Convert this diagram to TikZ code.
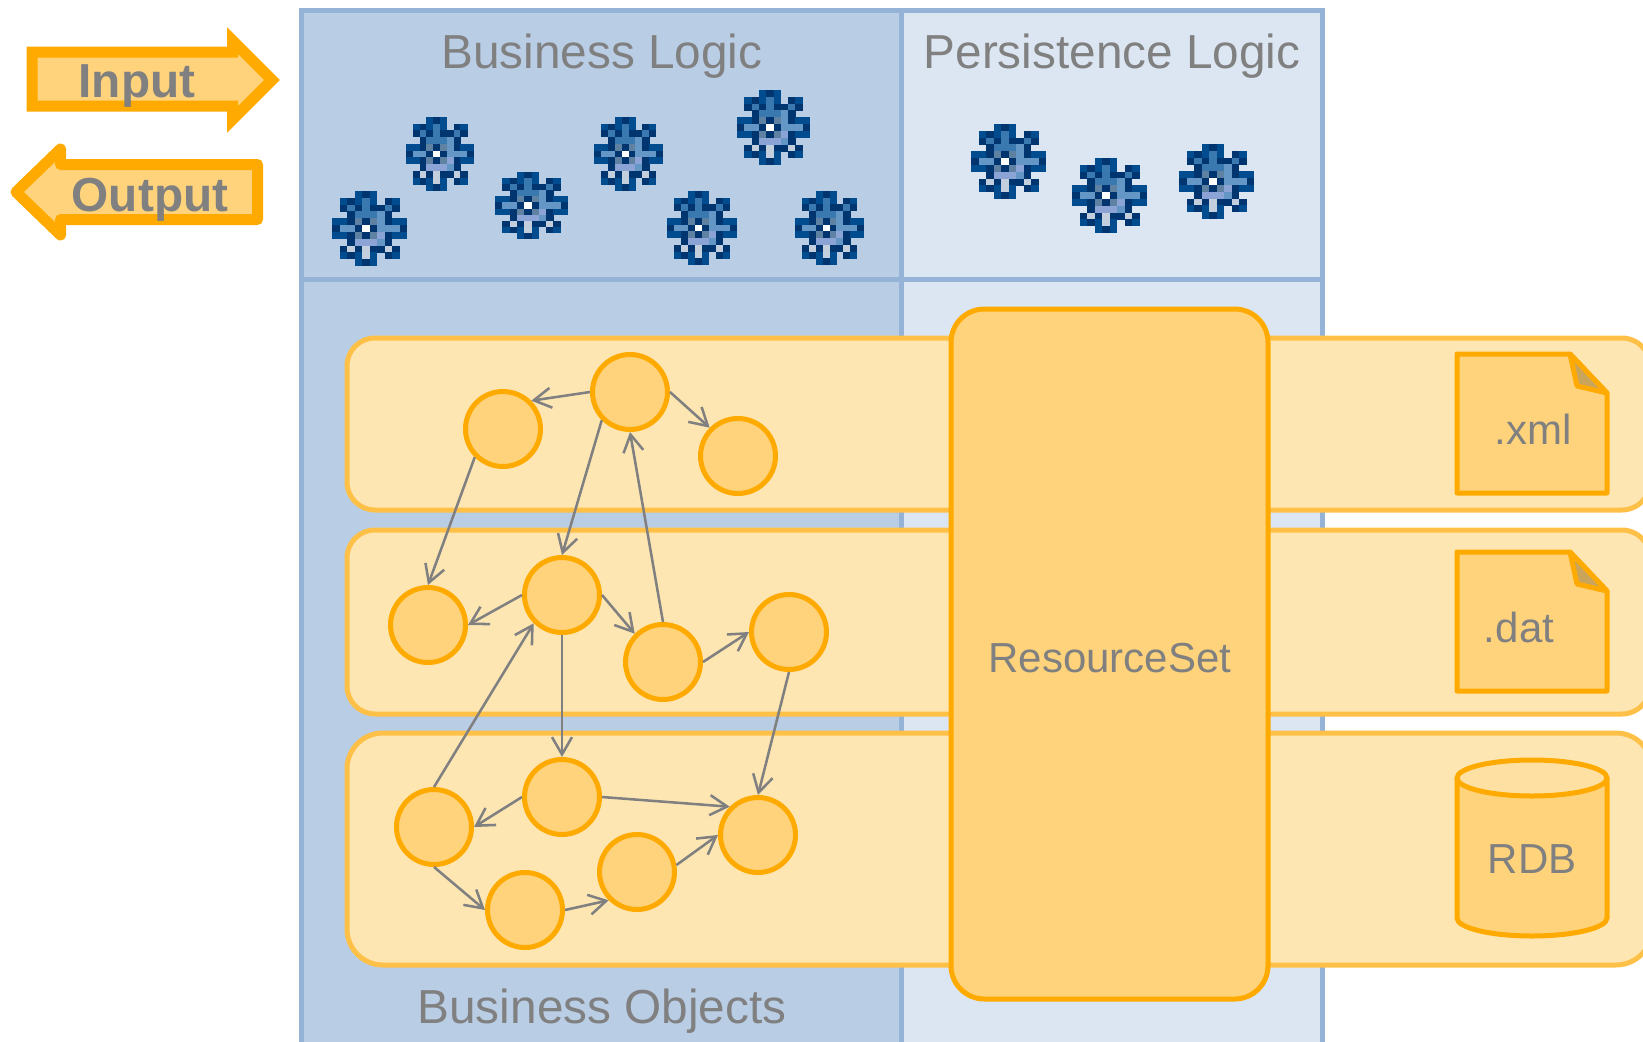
\documentclass[tikz, border = 0pt]{standalone}
\usepackage{fontspec}
\setmainfont{Liberation Sans}
\usepackage{tikz}
\usetikzlibrary{arrows.meta}

\definecolor{panelline}{HTML}{95B3D7}
\definecolor{paneldark}{HTML}{B9CDE5}
\definecolor{panellight}{HTML}{DCE6F2}
\definecolor{bandfill}{HTML}{FEE6B3}
\definecolor{bandline}{HTML}{FFC048}
\definecolor{boxline}{HTML}{FFAA00}
\definecolor{boxfill}{HTML}{FFD37B}
\definecolor{foldfill}{HTML}{C9A55C}
\definecolor{labelgray}{HTML}{808080}
\definecolor{gearb}{HTML}{004C8E}
\definecolor{geard}{HTML}{00356F}
\definecolor{gearm}{HTML}{3A78B0}
\definecolor{gearl}{HTML}{6497C5}
\definecolor{gearg}{HTML}{5F82A2}
\definecolor{gearp}{HTML}{8CA3D6}
\definecolor{gears}{HTML}{C4CFDE}
\definecolor{gearw}{HTML}{FFFFFF}

\tikzset{
	panel/.style = {draw = panelline, line width = 3.75pt},
	band/.style = {draw = bandline, fill = bandfill, line width = 3.75pt},
	box/.style = {draw = boxline, fill = boxfill, line width = 3.75pt},
	title/.style = {text = labelgray, anchor = base, inner sep = 0pt, font = \fontsize{35.8pt}{36pt}\selectfont},
	label/.style = {text = labelgray, anchor = base, inner sep = 0pt, font = \fontsize{31.5pt}{32pt}\selectfont},
	flow/.style = {text = labelgray, anchor = base, inner sep = 0pt, font = \fontsize{35.8pt}{36pt}\selectfont\bfseries},
	obj/.style = {circle, draw = boxline, fill = boxfill, line width = 3.75pt, minimum size = 56.25pt, inner sep = 0pt},
	link/.style = {draw = labelgray, line width = 1.9pt, -{Straight Barb[length = 13pt, width = 15pt]}}
}

\newcommand{\gearicon}[4]{
	\foreach \rowcells [count = \r from 0] in {
		{n,n,n,b,d,b,n,n,n,n}, {n,b,d,b,m,b,n,d,b,n}, {n,d,m,d,m,d,d,m,d,n}, {n,n,d,m,m,m,l,d,n,n},
		{b,b,d,g,d,g,l,d,b,b}, {d,l,l,d,w,d,l,l,l,d}, {b,b,d,g,d,g,p,d,b,b}, {n,n,d,p,p,p,l,d,n,n},
		{n,d,s,d,s,d,d,s,d,n}, {n,b,d,b,s,b,n,d,b,n}, {n,n,n,b,d,b,n,n,n,n}} {
		\foreach \k [count = \c from 0] in \rowcells {
			\if\k n\else
				\fill[fill = gear\k] ({#1 + \c * #3 / 10}, {#2 + \r * #4 / 11}) rectangle ({#1 + (\c + 1) * #3 / 10 + 0.3}, {#2 + (\r + 1) * #4 / 11 + 0.3});
			\fi
		}
	}
}

\newcommand{\docicon}[1]{
	\draw[box, line join = round] (1457, #1) -- (1570, #1) -- (1607, #1 + 39) -- (1607, #1 + 139) -- (1457, #1 + 139) -- cycle;
	\draw[draw = boxline, fill = foldfill, line width = 3.75pt, line join = round] (1570, #1) -- (1577, #1 + 32) -- (1607, #1 + 39) -- cycle;
}

\begin{document}
\begin{tikzpicture}[x = 0.75pt, y = -0.75pt]
	\useasboundingbox (0, 0) rectangle (1643, 1042);
	\clip (0, 0) rectangle (1643, 1042);

	\draw[panel, fill = paneldark] (301, 10) rectangle (901, 279);
	\draw[panel, fill = panellight] (901, 10) rectangle (1322, 279);
	\draw[panel, fill = paneldark] (301, 279) rectangle (901, 1060);
	\draw[panel, fill = panellight] (901, 279) rectangle (1322, 1060);

	\node[title] (logic) at (602, 68) {Business Logic};
	\node[title] (persist) at (1112, 68) {Persistence Logic};
	\node[title] (objects) at (602, 1023) {Business Objects};

	\foreach \gx/\gy/\gw/\gh in {332/191/75/75, 406/117/68/74, 495/172/73/67, 594/117/69/74, 737/90/73/75, 667/191/70/74, 795/191/69/74, 971/124/75/75, 1072/158/75/75, 1179/144/75/75} {
		\gearicon{\gx}{\gy}{\gw}{\gh}
	}

	\draw[line width = 11pt * 0.75, draw = boxline, fill = boxfill] (32, 52) -- (232.5, 52) -- (232.5, 40.5) -- (272, 80) -- (232.5, 119.5) -- (232.5, 106) -- (32, 106) -- cycle;
	\draw[line width = 11pt * 0.75, draw = boxline, fill = boxfill, line join = round] (257.5, 164.5) -- (60.5, 164.5) -- (60.5, 149) -- (16, 192) -- (60.5, 235) -- (60.5, 219.5) -- (257.5, 219.5) -- cycle;
	\node[flow] (input) at (137, 97) {Input};
	\node[flow] (output) at (150, 211) {Output};

	\draw[band, rounded corners = 21pt] (347, 338) rectangle (1650, 510);
	\draw[band, rounded corners = 21pt] (347, 530) rectangle (1650, 714);
	\draw[band, rounded corners = 27pt] (347, 733) rectangle (1652, 965);

	\draw[box, rounded corners = 25pt] (951, 309) rectangle (1268, 999);
	\node[label] (resource) at (1110, 672) {ResourceSet};

	\docicon{354}
	\node[label] (xml) at (1533, 444) {.xml};
	\docicon{552}
	\node[label] (dat) at (1519, 642) {.dat};

	\draw[box] (1457, 778) -- (1457, 918) arc[start angle = 180, end angle = 360, x radius = 75, y radius = -18] -- (1607, 778);
	\draw[box, fill = bandfill!70!boxfill] (1532, 778) ellipse[x radius = 75, y radius = -18];
	\node[label] (rdb) at (1532, 873) {RDB};

	\node[obj] (a) at (630, 392) {};
	\node[obj] (b) at (503, 429) {};
	\node[obj] (c) at (738, 456) {};
	\node[obj] (d) at (428, 625) {};
	\node[obj] (e) at (562, 595) {};
	\node[obj] (f) at (663, 662) {};
	\node[obj] (g) at (789, 632) {};
	\node[obj] (h) at (434, 827) {};
	\node[obj] (i) at (562, 797) {};
	\node[obj] (j) at (525, 910) {};
	\node[obj] (k) at (637, 872) {};
	\node[obj] (l) at (758, 835) {};

	\draw[link] (a.west) -- (b.north east);
	\draw[link] (a.east) -- (c.north west);
	\draw[link] (a.south west) -- (e.north);
	\draw[link] (b.south west) -- (d.north);
	\draw[link] (e.west) -- (d.east);
	\draw[link] (e.east) -- (f.north west);
	\draw[link] (f.north) -- (a.south);
	\draw[link] (f.east) -- (g.west);
	\draw[link] (g.south) -- (l.north);
	\draw[link] (e.south) -- (i.north);
	\draw[link] (h.north) -- (e.south west);
	\draw[link] (i.west) -- (h.east);
	\draw[link] (i.east) -- (l.north west);
	\draw[link] (h.south) -- (j.west);
	\draw[link] (j.east) -- (k.south west);
	\draw[link] (k.10) -- (l.west);
\end{tikzpicture}
\end{document}
